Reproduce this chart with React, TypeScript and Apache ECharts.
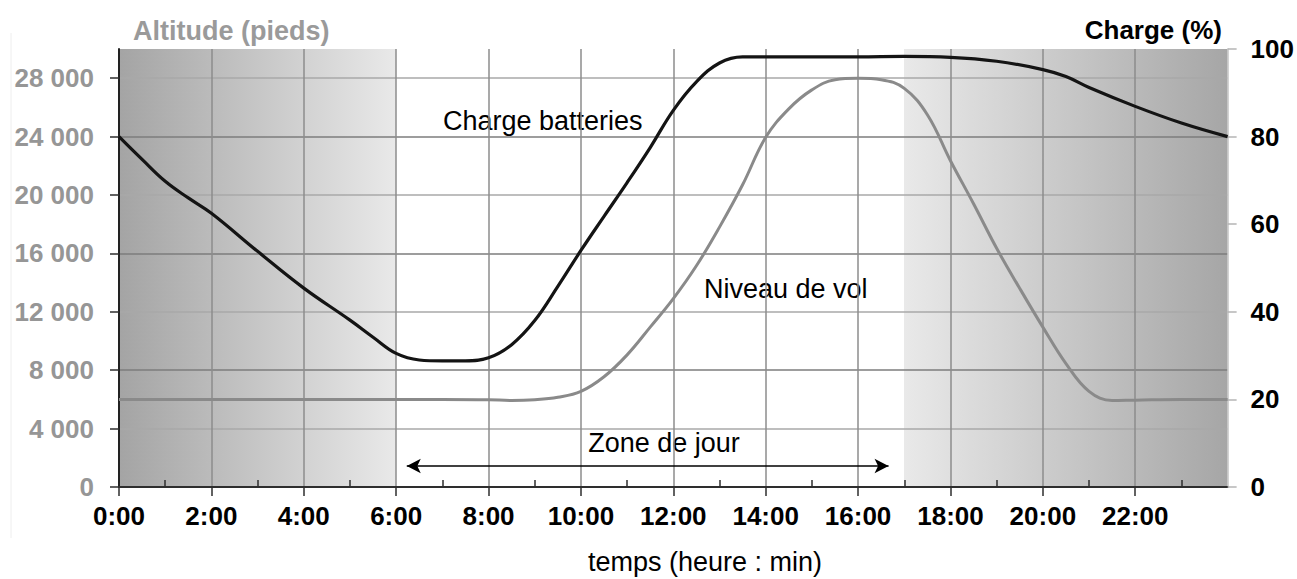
import React, { useEffect, useRef } from "react";
import * as echarts from "echarts";

// ---- Data ----
const CHARGE_HOURS = [0, 0.5, 1, 1.5, 2, 3, 4, 5, 5.5, 6, 6.5, 7, 7.5, 8, 8.5, 9, 9.5, 10, 10.5, 11, 11.5, 12, 12.5, 13, 13.5, 14, 15, 16, 17, 18, 19, 20, 20.5, 21, 22, 23, 24];
const CHARGE_PCT = [80, 74.8, 69.8, 66, 62.5, 53.8, 45.4, 38.1, 34.2, 30.5, 29, 28.8, 28.8, 29.5, 32.5, 38, 45.8, 54, 61.8, 69.5, 77.5, 86, 92.5, 96.8, 98.2, 98.2, 98.2, 98.2, 98.3, 98.1, 97.2, 95.3, 93.7, 91.2, 86.9, 83.1, 80];

const ALT_HOURS = [0, 2, 4, 6, 7, 8, 8.5, 9, 9.5, 10, 10.5, 11, 11.5, 12, 12.5, 13, 13.5, 14, 14.5, 15, 15.5, 16, 16.5, 17, 17.5, 18, 18.5, 19, 19.5, 20, 20.5, 21, 21.5, 22, 23, 24];
const ALTITUDE_FT = [6000, 6000, 6000, 6000, 6000, 5980, 5930, 5980, 6150, 6550, 7550, 9050, 10950, 12900, 15150, 17800, 20700, 23950, 25900, 27200, 27900, 28000, 27900, 27300, 25500, 22350, 19400, 16350, 13600, 10950, 8450, 6550, 5920, 5950, 6000, 6000];

const X_TICKS_MAJOR = [0, 2, 4, 6, 8, 10, 12, 14, 16, 18, 20, 22];
const X_TICKS_MINOR = [1, 3, 5, 7, 9, 11, 13, 15, 17, 19, 21, 23];
const ALT_TICKS = [0, 4000, 8000, 12000, 16000, 20000, 24000, 28000];
const CHARGE_TICKS = [0, 20, 40, 60, 80, 100];

const DAY_START = 6;
const DAY_END = 17;
const ZONE_ARROW_FROM = 6.23;
const ZONE_ARROW_TO = 16.66;
const ZONE_ARROW_ALT = 1440;

const FONT = 'Arial, "Liberation Sans", sans-serif';

export default function App() {
  const ref = useRef<HTMLDivElement>(null);

  useEffect(() => {
    document.body.style.margin = "0";
    if (!ref.current) return;
    const chart = echarts.init(ref.current, undefined, { renderer: "svg" });

    const xMax = 24;
    const bg = new echarts.graphic.LinearGradient(0, 0, 1, 0, [
      { offset: 0, color: "#a4a4a4" },
      { offset: DAY_START / xMax, color: "#e9e9e9" },
      { offset: DAY_START / xMax + 0.0001, color: "#ffffff" },
      { offset: DAY_END / xMax, color: "#ffffff" },
      { offset: DAY_END / xMax + 0.0001, color: "#e9e9e9" },
      { offset: 1, color: "#a6a6a6" },
    ]);

    const ySplitColors: string[] = [];
    for (let i = 0; i <= 15; i++) {
      ySplitColors.push(i === 15 ? "#c8c8c8" : i % 2 === 0 ? "#7c7c7c" : "#a9a9a9");
    }
    const xSplitColors: string[] = [];
    for (let i = 0; i <= 12; i++) xSplitColors.push(i === 12 ? "#c4c4c4" : "#8c8c8c");

    const option: any = {
      animation: false,
      backgroundColor: "#ffffff",
      grid: {
        left: 119,
        right: 69,
        top: 49,
        bottom: 92,
        show: true,
        backgroundColor: bg,
        borderWidth: 0,
      },
      xAxis: [
        {
          type: "value",
          min: 0,
          max: 24,
          interval: 2,
          position: "bottom",
          axisLine: { show: true, onZero: false, lineStyle: { color: "#2e2e2e", width: 2 } },
          axisTick: { show: true, length: 9, lineStyle: { color: "#2e2e2e", width: 1.5 }, customValues: X_TICKS_MAJOR },
          axisLabel: {
            margin: 16,
            color: "#000",
            fontSize: 26,
            fontWeight: "bold",
            fontFamily: FONT,
            customValues: X_TICKS_MAJOR,
            formatter: (v: number) => (v >= 24 ? "" : `${v}:00`),
          },
          splitLine: { show: true, lineStyle: { color: xSplitColors, width: 1.5 } },
        },
        {
          type: "value",
          min: 0,
          max: 24,
          interval: 1,
          position: "bottom",
          axisLine: { show: false },
          axisTick: { show: true, inside: true, length: 7, lineStyle: { color: "#2e2e2e", width: 1.5 }, customValues: X_TICKS_MINOR },
          axisLabel: { show: false },
          splitLine: { show: false },
        },
      ],
      yAxis: [
        {
          type: "value",
          min: 0,
          max: 30000,
          interval: 2000,
          position: "left",
          axisLine: { show: true, onZero: false, lineStyle: { color: "#222", width: 2 } },
          axisTick: { show: true, length: 9, lineStyle: { color: "#2e2e2e", width: 1.5 }, customValues: ALT_TICKS },
          axisLabel: {
            margin: 25,
            color: "#969696",
            fontSize: 26,
            fontWeight: "bold",
            fontFamily: FONT,
            customValues: ALT_TICKS,
            formatter: (v: number) => (v === 0 ? "0" : `${v / 1000} 000`),
          },
          splitLine: { show: true, lineStyle: { color: ySplitColors, width: 1.5 } },
        },
        {
          type: "value",
          min: 0,
          max: 100,
          interval: 20,
          position: "right",
          axisLine: { show: true, onZero: false, lineStyle: { color: "#c4c4c4", width: 1.5 } },
          axisTick: { show: true, length: 9, lineStyle: { color: "#b4b4b4", width: 1.5 }, customValues: CHARGE_TICKS },
          axisLabel: {
            margin: 23,
            color: "#000",
            fontSize: 26,
            fontWeight: "bold",
            fontFamily: FONT,
            customValues: CHARGE_TICKS,
          },
          splitLine: { show: false },
        },
      ],
      series: [
        {
          name: "Niveau de vol",
          type: "line",
          xAxisIndex: 0,
          yAxisIndex: 0,
          data: ALT_HOURS.map((t, i) => [t, ALTITUDE_FT[i]]),
          smooth: 0.4,
          showSymbol: false,
          symbol: "none",
          lineStyle: { color: "#8a8a8a", width: 3 },
          z: 2,
          markLine: {
            silent: true,
            symbol: ["arrow", "arrow"],
            symbolSize: [11, 14],
            label: { show: false },
            lineStyle: { color: "#000", width: 1.5, type: "solid" },
            data: [[{ coord: [ZONE_ARROW_FROM, ZONE_ARROW_ALT] }, { coord: [ZONE_ARROW_TO, ZONE_ARROW_ALT] }]],
          },
        },
        {
          name: "Charge batteries",
          type: "line",
          xAxisIndex: 0,
          yAxisIndex: 1,
          data: CHARGE_HOURS.map((t, i) => [t, CHARGE_PCT[i]]),
          smooth: 0.4,
          showSymbol: false,
          symbol: "none",
          lineStyle: { color: "#141414", width: 3.2 },
          z: 3,
        },
      ],
      graphic: [
        { type: "line", shape: { x1: 11, y1: 33, x2: 11, y2: 538 }, style: { stroke: "#eeeeee", lineWidth: 1 }, silent: true },
        {
          type: "text", x: 133, y: 31,
          style: { text: "Altitude (pieds)", fill: "#9a9a9a", font: `bold 27px ${FONT}`, textAlign: "left", textVerticalAlign: "middle" },
        },
        {
          type: "text", x: 1222, y: 30,
          style: { text: "Charge (%)", fill: "#000", font: `bold 26px ${FONT}`, textAlign: "right", textVerticalAlign: "middle" },
        },
        {
          type: "text", x: 443, y: 121,
          style: { text: "Charge batteries", fill: "#000", font: `27px ${FONT}`, textAlign: "left", textVerticalAlign: "middle" },
        },
        {
          type: "text", x: 704, y: 289,
          style: { text: "Niveau de vol", fill: "#000", font: `27px ${FONT}`, textAlign: "left", textVerticalAlign: "middle" },
        },
        {
          type: "text", x: 664, y: 443,
          style: { text: "Zone de jour", fill: "#000", font: `27px ${FONT}`, textAlign: "center", textVerticalAlign: "middle" },
        },
        {
          type: "text", x: 705, y: 562,
          style: { text: "temps (heure : min)", fill: "#000", font: `27px ${FONT}`, textAlign: "center", textVerticalAlign: "middle" },
        },
      ],
    };

    chart.setOption(option);
    return () => chart.dispose();
  }, []);

  return <div ref={ref} style={{ width: 1297, height: 579 }} />;
}
